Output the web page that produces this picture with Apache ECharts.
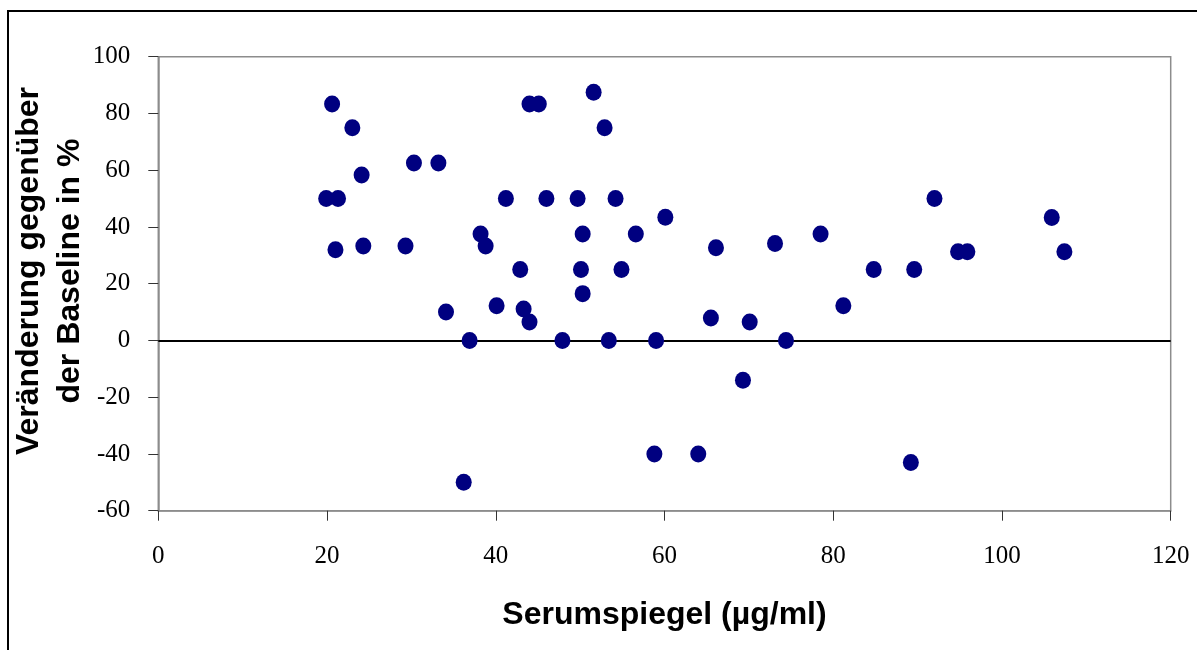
<!DOCTYPE html>
<html>
<head>
<meta charset="utf-8">
<script src="https://cdn.jsdelivr.net/npm/echarts@6/dist/echarts.min.js"></script>
<style>html,body{margin:0;padding:0;background:#fff}#c{width:1197px;height:650px}</style>
</head>
<body>
<div id="c"></div>
<script>
const serumLevels = [20.6,23.0,24.1,30.3,33.2,19.9,21.3,21.0,24.3,29.3,38.2,38.8,34.1,36.9,40.1,42.9,43.3,44.0,41.2,44.0,45.1,46.0,47.9,51.6,52.9,49.7,50.3,50.1,50.3,53.4,54.2,54.9,56.6,60.1,59.0,58.8,64.0,36.2,66.1,65.5,70.1,74.4,69.3,73.1,78.5,81.2,84.8,89.6,92.0,89.2,94.8,95.9,105.9,107.4];
const changePct = [83.3,75.0,58.3,62.5,62.5,50.0,50.0,32.0,33.3,33.3,37.5,33.3,10.0,0,12.2,25.0,11.1,6.5,50.0,83.3,83.3,50.0,0,87.5,75.0,50.0,37.5,25.0,16.5,0,50.0,25.0,37.5,43.4,0,-40.0,-40.0,-50.0,32.7,7.9,6.5,0,-14.0,34.2,37.5,12.2,25.0,25.0,50.0,-43.0,31.3,31.3,43.3,31.3];
const xTitle = 'Serumspiegel (µg/ml)';
const yTitle = 'Veränderung gegenüber\nder Baseline in %';

const points = serumLevels.map((x, i) => [x, changePct[i]]);
const chart = echarts.init(document.getElementById('c'), null, {renderer: 'canvas'});
const axisGray = '#8c8c8c';
chart.setOption({
  animation: false,
  backgroundColor: '#fff',
  grid: {left: 158.3, right: 26.3, top: 56.7, bottom: 139.3, containLabel: false, outerBoundsMode: 'none',
         show: true, borderColor: axisGray, borderWidth: 1.5, backgroundColor: 'transparent'},
  graphic: [{
    type: 'rect', silent: true, z: 100,
    shape: {x: 8, y: 11, width: 1400, height: 1000},
    style: {fill: 'none', stroke: '#000', lineWidth: 2}
  }, {
    type: 'text', silent: true, z: 100,
    x: 50, y: 271, rotation: Math.PI / 2,
    style: {text: yTitle, fontFamily: 'Liberation Sans', fontWeight: 'bold', fontSize: 32, lineHeight: 41,
            fill: '#000', align: 'center', verticalAlign: 'middle'}
  }],
  xAxis: {
    type: 'value', min: 0, max: 120, interval: 20,
    name: xTitle, nameLocation: 'middle', nameGap: 88,
    nameTextStyle: {fontFamily: 'Liberation Sans', fontWeight: 'bold', fontSize: 32, color: '#000'},
    axisLine: {show: true, onZero: false, lineStyle: {color: axisGray, width: 1.5}},
    axisTick: {show: true, inside: false, length: 10, lineStyle: {color: '#333', width: 1}},
    axisLabel: {margin: 33, fontFamily: 'Liberation Serif', fontSize: 25, color: '#000'},
    splitLine: {show: false}
  },
  yAxis: {
    type: 'value', min: -60, max: 100, interval: 20,
    axisLine: {show: true, onZero: false, lineStyle: {color: axisGray, width: 1.5}},
    axisTick: {show: true, inside: false, length: 10, lineStyle: {color: '#333', width: 1}},
    axisLabel: {margin: 28, fontFamily: 'Liberation Serif', fontSize: 25, color: '#000'},
    splitLine: {show: false}
  },
  series: [{
    type: 'scatter',
    data: points,
    symbol: 'circle',
    symbolSize: [16, 17],
    itemStyle: {color: '#000080', opacity: 1},
    z: 3,
    markLine: {
      silent: true, symbol: 'none', label: {show: false},
      lineStyle: {color: '#000', width: 2, type: 'solid'},
      data: [{yAxis: 0}],
      z: 2
    }
  }]
});
</script>
</body>
</html>
